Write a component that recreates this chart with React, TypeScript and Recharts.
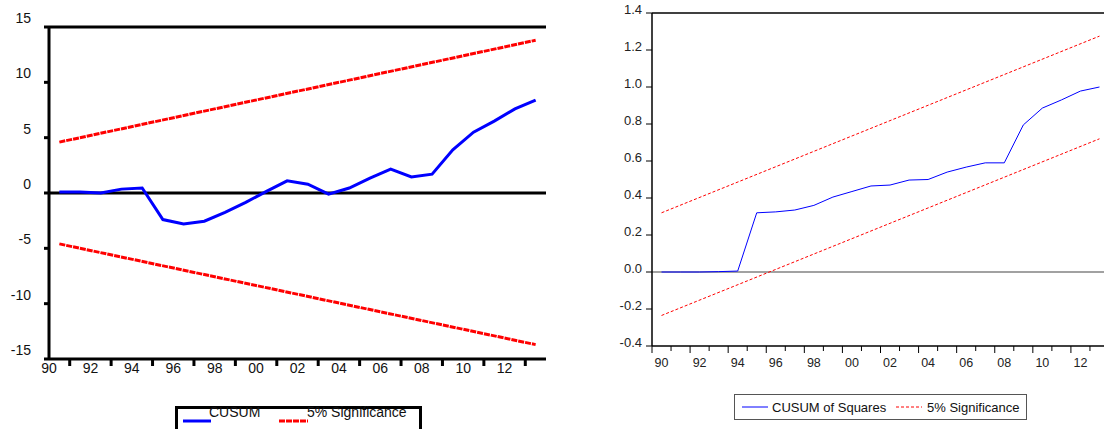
import { LineChart, Line, XAxis, YAxis, ReferenceLine } from 'recharts'

const FONT = 'Arial, "Liberation Sans", sans-serif'

// observation years (annual, plotted at mid-year)
const years = [1990, 1991, 1992, 1993, 1994, 1995, 1996, 1997, 1998, 1999, 2000, 2001, 2002, 2003, 2004, 2005, 2006, 2007, 2008, 2009, 2010, 2011, 2012, 2013]

// left panel: CUSUM
const cusum = [0.1, 0.1, 0.0, 0.35, 0.45, -2.4, -2.8, -2.55, -1.75, -0.85, 0.15, 1.1, 0.8, -0.1, 0.45, 1.35, 2.15, 1.45, 1.7, 3.9, 5.5, 6.5, 7.6, 8.4]
const cusumUpper = [4.6, 13.8] // first and last observation
const cusumLower = [-4.6, -13.7]
const cusumTicks = [-15, -10, -5, 0, 5, 10, 15]

// right panel: CUSUM of squares
const cusumSq = [0, 0, 0, 0.002, 0.005, 0.32, 0.325, 0.335, 0.36, 0.405, 0.435, 0.465, 0.47, 0.497, 0.5, 0.54, 0.567, 0.59, 0.59, 0.795, 0.886, 0.93, 0.978, 1.0]
const sqUpper = [0.32, 1.275]
const sqLower = [-0.235, 0.72]
const sqTicks = [-0.4, -0.2, 0, 0.2, 0.4, 0.6, 0.8, 1.0, 1.2, 1.4]

const last = years.length - 1
const edge = (arr: number[], i: number) => (i === 0 ? arr[0] : i === last ? arr[1] : null)

const cusumData = years.map((y, i) => ({ t: y + 0.5, cusum: cusum[i], upper: edge(cusumUpper, i), lower: edge(cusumLower, i) }))
const sqData = years.map((y, i) => ({ t: y + 0.5, sq: cusumSq[i], upper: edge(sqUpper, i), lower: edge(sqLower, i) }))

const yy = (y: number) => String(y % 100).padStart(2, '0')

const LeftYTick = ({ x, y, payload }: any) => (
  <g>
    <line x1={x - 5} x2={x} y1={y} y2={y} stroke="#000" strokeWidth={3} />
    <text x={x - 18} y={y - 4} textAnchor="end" fontSize={14} fontFamily={FONT} fill="#111">{payload.value}</text>
  </g>
)

const LeftXTick = ({ x, y, payload }: any) => {
  const v = payload.value
  if (v % 2 === 1) return <line x1={x} x2={x} y1={y} y2={y + 7} stroke="#000" strokeWidth={3} />
  return <text x={x} y={y + 14} textAnchor="middle" fontSize={14} fontFamily={FONT} fill="#111">{yy(v)}</text>
}

const RightYTick = ({ x, y, payload }: any) => (
  <g>
    <line x1={x - 6} x2={x} y1={y} y2={y} stroke="#000" strokeWidth={1} />
    <text x={x - 10} y={y + 1} textAnchor="end" fontSize={13} fontFamily={FONT} fill="#222">{payload.value.toFixed(1)}</text>
  </g>
)

const RightXTick = ({ x, y, payload }: any) => {
  const v = payload.value
  if (Number.isInteger(v)) return <line x1={x} x2={x} y1={y} y2={y + (v % 2 === 0 ? 7 : 5)} stroke="#000" strokeWidth={1} />
  const yr = Math.floor(v)
  if (yr % 2 !== 0) return <g />
  return <text x={x} y={y + 21} textAnchor="middle" fontSize={12.5} fontFamily={FONT} fill="#222">{yy(yr)}</text>
}

const sqXTicks = years.flatMap(y => [y, y + 0.5])

export default function App() {
  return (
    <div style={{ position: 'absolute', left: 0, top: 0, width: 1104, height: 429, overflow: 'hidden', background: '#fff' }}>
      <div style={{ position: 'absolute', left: 0, top: 0 }}>
        <LineChart width={560} height={429} data={cusumData} margin={{ top: 27, right: 14, left: 0, bottom: 50 }}>
          <XAxis dataKey="t" type="number" domain={[1990, 2014]} allowDataOverflow ticks={years} interval={0}
            height={20} tickSize={0} tickMargin={0} tickLine={false} tick={<LeftXTick />}
            axisLine={{ stroke: '#000', strokeWidth: 3 }} />
          <YAxis type="number" domain={[-15, 15]} ticks={cusumTicks} interval={0} width={49}
            tickSize={0} tickMargin={0} tickLine={false} tick={<LeftYTick />}
            axisLine={{ stroke: '#000', strokeWidth: 3 }} />
          <ReferenceLine y={15} stroke="#000" strokeWidth={3} />
          <ReferenceLine y={0} stroke="#000" strokeWidth={3} />
          <Line type="linear" dataKey="upper" stroke="#ff0000" strokeWidth={3} strokeDasharray="6 1" dot={false} connectNulls isAnimationActive={false} />
          <Line type="linear" dataKey="lower" stroke="#ff0000" strokeWidth={3} strokeDasharray="6 1" dot={false} connectNulls isAnimationActive={false} />
          <Line type="linear" dataKey="cusum" stroke="#0000ff" strokeWidth={3} dot={false} isAnimationActive={false} />
        </LineChart>
      </div>

      <svg style={{ position: 'absolute', left: 160, top: 390 }} width={270} height={39}>
        <rect x={7} y={9} width={258} height={30} fill="#fff" />
        <path d="M16.5,39 V17.5 H260.5 V39" fill="none" stroke="#000" strokeWidth={3} />
        <line x1={23} x2={51} y1={31} y2={31} stroke="#0000ff" strokeWidth={3} />
        <text x={49} y={27} fontSize={14} fontFamily={FONT} fill="#111">CUSUM</text>
        <line x1={119} x2={148} y1={31} y2={31} stroke="#ff0000" strokeWidth={3} strokeDasharray="6 1" />
        <text x={147} y={27} fontSize={14} fontFamily={FONT} fill="#111">5% Significance</text>
      </svg>

      <div style={{ position: 'absolute', left: 560, top: 0 }}>
        <LineChart width={560} height={429} data={sqData} margin={{ top: 13, right: 11, left: 0, bottom: 63 }}>
          <XAxis dataKey="t" type="number" domain={[1990, 2014]} allowDataOverflow ticks={sqXTicks} interval={0}
            height={20} tickSize={0} tickMargin={0} tickLine={false} tick={<RightXTick />}
            axisLine={{ stroke: '#000', strokeWidth: 1.5 }} />
          <YAxis type="number" domain={[-0.4, 1.4]} ticks={sqTicks} interval={0} width={92}
            tickSize={0} tickMargin={0} tickLine={false} tick={<RightYTick />}
            axisLine={{ stroke: '#000', strokeWidth: 1.5 }} />
          <ReferenceLine y={1.4} stroke="#000" strokeWidth={1.5} />
          <ReferenceLine y={0} stroke="#444" strokeWidth={1.2} />
          <Line type="linear" dataKey="upper" stroke="#ff0000" strokeWidth={1} strokeDasharray="3 2" dot={false} connectNulls isAnimationActive={false} />
          <Line type="linear" dataKey="lower" stroke="#ff0000" strokeWidth={1} strokeDasharray="3 2" dot={false} connectNulls isAnimationActive={false} />
          <Line type="linear" dataKey="sq" stroke="#0000ff" strokeWidth={1} dot={false} isAnimationActive={false} />
        </LineChart>
      </div>

      <svg style={{ position: 'absolute', left: 730, top: 390 }} width={300} height={35}>
        <rect x={4.5} y={4.5} width={292} height={25} fill="#fff" stroke="#555" strokeWidth={1} />
        <line x1={12} x2={38} y1={17} y2={17} stroke="#0000ff" strokeWidth={1} />
        <text x={42} y={22} fontSize={13} fontFamily={FONT} fill="#111">CUSUM of Squares</text>
        <line x1={166} x2={192} y1={17} y2={17} stroke="#ff0000" strokeWidth={1} strokeDasharray="3 2" />
        <text x={197} y={22} fontSize={13} fontFamily={FONT} fill="#111">5% Significance</text>
      </svg>
    </div>
  )
}
